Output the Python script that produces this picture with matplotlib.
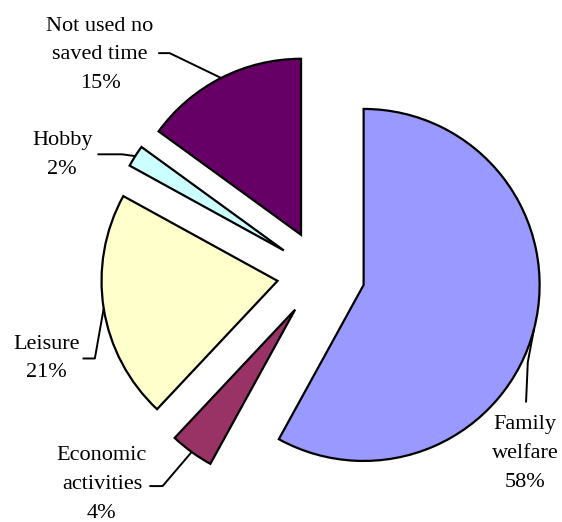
import numpy as np
import matplotlib
matplotlib.use('Agg')
import matplotlib.pyplot as plt

# Use of saved time, share of respondents
categories = ['Family\nwelfare', 'Economic\nactivities', 'Leisure', 'Hobby', 'Not used no\nsaved time']
shares = [58, 4, 21, 2, 15]
colors = ['#9999FF', '#993366', '#FFFFCC', '#CCFFFF', '#660066']

explode_r = 0.25

# label block centres and leader elbows (data units, pie radius = 1)
label_pos = [(1.16, -1.02), (-1.245, -1.195), (-1.56, -0.48), (-1.47, 0.675), (-1.255, 1.245)]
leader_start = [(1.165, -0.73), (-0.975, -1.205), (-1.355, -0.48), (-1.27, 0.68), (-0.925, 1.255)]
leader_elbow = [(1.175, -0.50), (-0.90, -1.205), (-1.285, -0.48), (-1.13, 0.68), (-0.86, 1.255)]

plt.rcParams['font.family'] = 'serif'
plt.rcParams['font.serif'] = ['Liberation Serif', 'DejaVu Serif']

fig = plt.figure(figsize=(5.62, 5.22), dpi=100)
ax = fig.add_axes([0, 0, 1, 1])

wedges, _ = ax.pie(shares,
                   colors=colors,
                   startangle=90,
                   counterclock=False,
                   explode=[explode_r] * len(shares),
                   radius=1,
                   wedgeprops={'edgecolor': 'black', 'linewidth': 1.6})

total = sum(shares)
cum = np.cumsum([0] + shares)
for i, (lab, val) in enumerate(zip(categories, shares)):
    # mid angle, clockwise from 12 o'clock
    mid = (cum[i] + val / 2) / total * 2 * np.pi
    dx, dy = np.sin(mid), np.cos(mid)
    ax_pt = ((1 + explode_r) * dx, (1 + explode_r) * dy)
    xs = [leader_start[i][0], leader_elbow[i][0], ax_pt[0]]
    ys = [leader_start[i][1], leader_elbow[i][1], ax_pt[1]]
    ax.plot(xs, ys, color='black', lw=1.4, solid_capstyle='butt')
    ax.text(label_pos[i][0], label_pos[i][1], f'{lab}\n{val}%',
            ha='center', va='center', fontsize=16, linespacing=1.7)

ax.set_xlim(-321 / 176, (562 - 321) / 176)
ax.set_ylim(-(522 - 274) / 176, 274 / 176)
ax.set_aspect('auto')
ax.axis('off')

fig.savefig('out.png', dpi=100, facecolor='white')
plt.close(fig)
